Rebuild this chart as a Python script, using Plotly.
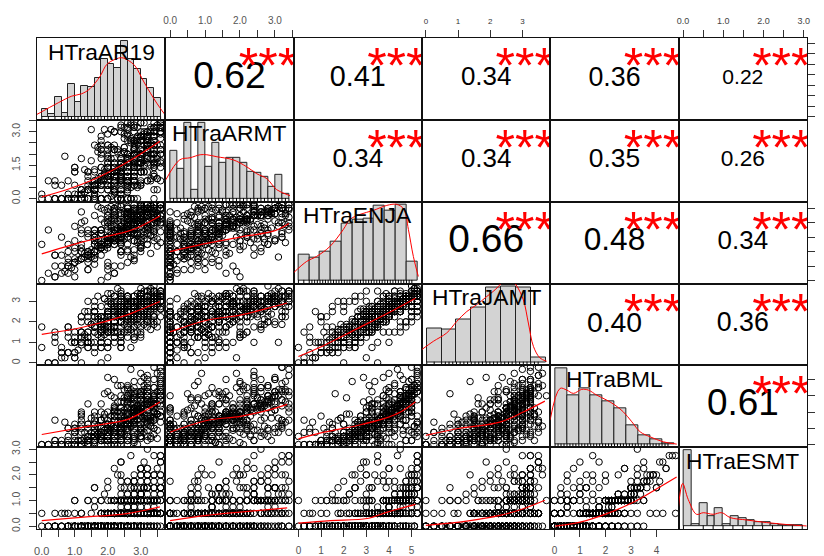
import plotly.graph_objects as go

FONT = "Liberation Sans, Arial, Helvetica, sans-serif"

names = ["HTraAR19", "HTraARMT", "HTraENJA", "HTraJAMT", "HTraBML", "HTraESMT"]

# ---------------- observations (estimated from the scatter clouds) ----------------
AR19 = [
    0.0, 0.4, 1.2, 0.8, 1.6, 0.0, 1.0, 2.0, 0.6, 1.4, 0.4, 1.8, 1.0, 0.8, 2.2, 0.2, 1.2, 1.6, 0.4, 1.0,
    1.4, 0.8, 2.0, 1.6, 1.0, 2.4, 1.2, 0.4, 1.8, 2.2, 1.6, 1.0, 2.6, 1.4, 0.8, 1.8, 2.0, 1.2, 0.6, 1.6,
    1.8, 2.2, 1.0, 1.6, 2.4, 1.4, 2.0, 0.8, 1.8, 2.6, 1.2, 2.0, 1.6, 2.8, 1.4, 1.8, 2.2, 1.0, 2.4, 1.6,
    2.0, 1.6, 2.4, 1.2, 2.2, 2.8, 1.8, 2.6, 1.4, 2.0, 2.4, 1.0, 2.2, 3.0, 1.8, 2.6, 1.6, 2.0, 2.4, 1.8,
    2.2, 2.6, 1.8, 2.4, 3.0, 1.6, 2.2, 2.8, 2.0, 1.4, 2.6, 2.4, 3.2, 1.8, 2.2, 2.0, 2.8, 1.2, 2.4, 2.6,
    2.4, 2.0, 2.8, 2.6, 1.8, 3.0, 2.2, 2.4, 3.2, 1.6, 2.6, 2.8, 2.0, 2.4, 3.4, 2.2, 1.4, 2.6, 3.0, 2.4,
    2.6, 3.0, 2.2, 2.8, 2.4, 3.2, 1.8, 2.6, 3.4, 2.4, 2.0, 2.8, 3.0, 2.6, 2.2, 3.4, 2.4, 2.8, 1.6, 3.2,
    2.8, 2.4, 3.2, 2.6, 3.0, 2.2, 3.4, 2.8, 2.0, 3.0, 2.6, 3.2, 2.4, 2.8, 3.6, 2.6, 3.0, 2.2, 2.8, 3.4,
    3.0, 2.6, 3.2, 2.8, 3.4, 2.4, 3.0, 3.6, 2.8, 3.2, 2.2, 3.0, 3.4, 2.6, 3.2, 2.8, 3.6, 3.0, 2.4, 3.2,
    3.2, 3.4, 2.8, 3.6, 3.0, 3.4, 3.2, 2.6, 3.6, 3.0, 3.4, 3.2, 2.8, 3.6, 3.4, 3.0, 3.2, 3.6, 2.4, 3.4,
    2.2, 3.0, 1.4, 2.6, 0.6, 3.4, 2.0, 1.8, 2.8, 3.2, 1.2, 2.4, 3.6, 2.6, 0.2, 2.0, 3.0, 1.6, 2.8, 2.2,
    3.4, 1.8, 2.6, 0.8, 2.4, 3.0, 2.2, 1.4, 3.2, 2.8, 2.0, 3.6, 1.0, 2.6, 3.0, 2.4, 1.6, 3.4, 2.2, 2.8,
    1.6, 2.8, 3.2, 2.0, 3.6, 1.2, 2.4, 3.0, 2.6, 0.4, 2.2, 3.4, 2.8, 1.8, 3.0, 2.4, 3.2, 2.0, 1.4, 2.6,
    2.6, 2.0, 3.4, 2.8, 1.6, 3.0, 0.8, 2.4, 3.6, 2.2, 2.8, 1.2, 3.2, 2.6, 2.0, 3.4, 1.8, 3.0, 2.4, 3.6,
    3.0, 2.4, 1.8, 3.6, 2.6, 2.2, 3.2, 1.4, 2.8, 3.4, 2.0, 2.6, 3.0, 0.6, 2.4, 3.6, 2.8, 1.6, 3.2, 2.2,
    2.4, 3.2, 2.8, 1.0, 3.4, 2.6, 2.0, 3.0, 1.8, 3.6, 2.2, 2.8, 1.4, 3.2, 2.6, 3.0, 2.4, 2.0, 3.4, 1.2,
    1.3, 2.1, 0.9, 1.7, 2.5, 1.1, 1.9, 2.3, 0.7, 1.5, 2.7, 1.3, 2.0, 1.6, 2.9, 1.2, 1.8, 2.4, 1.4, 2.2,
    1.9, 2.6, 1.5, 2.3, 3.1, 1.7, 2.1, 2.8, 1.3, 2.5, 3.3, 1.9, 2.4, 2.0, 2.7, 1.6, 2.9, 2.2, 1.8, 3.0,
    2.3, 1.7, 2.9, 2.1, 3.3, 2.5, 1.9, 2.7, 3.1, 2.0, 2.6, 1.5, 3.4, 2.2, 2.8, 2.4, 1.8, 3.0, 2.6, 2.1,
    2.7, 2.2, 3.2, 1.9, 2.5, 3.5, 2.3, 2.9, 1.7, 3.1, 2.4, 2.8, 3.3, 2.1, 2.6, 3.0, 2.0, 3.4, 2.5, 2.9,
    2.5, 3.1, 2.2, 2.9, 3.5, 2.7, 2.1, 3.3, 2.6, 3.0, 1.9, 2.8, 3.2, 2.4, 3.6, 2.3, 3.1, 2.7, 3.4, 2.0,
    3.1, 2.6, 3.3, 2.4, 2.9, 3.5, 2.8, 3.2, 2.2, 3.0, 3.4, 2.7, 3.6, 2.5, 3.1, 2.9, 3.3, 2.1, 2.8, 3.5,
    2.9, 3.4, 2.6, 3.2, 3.0, 3.6, 2.4, 3.3, 2.8, 3.5, 3.1, 2.7, 3.4, 3.0, 2.5, 3.2, 3.6, 2.9, 3.3, 2.3,
    3.3, 3.0, 3.5, 2.8, 3.6, 3.2, 2.7, 3.4, 3.1, 3.6, 2.9, 3.5, 3.3, 2.6, 3.4, 3.0, 3.6, 3.2, 2.8, 3.5,
]
ARMT = [
    0.0, 0.0, 0.4, 0.0, 0.8, 0.2, 0.0, 1.0, 0.0, 0.4, 0.6, 0.0, 1.4, 0.0, 0.2, 0.8, 0.0, 0.4, 0.0, 1.2,
    0.4, 0.0, 1.0, 0.6, 0.0, 1.4, 0.2, 0.8, 0.0, 1.6, 0.4, 0.6, 0.0, 1.2, 0.8, 0.0, 2.0, 0.4, 0.6, 0.2,
    0.8, 0.4, 1.2, 0.0, 1.6, 0.6, 1.0, 0.2, 2.0, 0.8, 0.0, 1.4, 0.6, 1.0, 0.4, 2.4, 0.8, 0.0, 1.2, 0.6,
    1.0, 0.6, 1.6, 0.2, 1.2, 0.8, 2.2, 0.4, 1.0, 1.8, 0.0, 1.4, 0.6, 2.6, 1.0, 0.8, 1.2, 0.4, 1.6, 0.6,
    1.2, 0.8, 1.8, 0.4, 1.4, 2.4, 1.0, 0.6, 1.6, 0.0, 2.0, 1.2, 0.8, 2.8, 1.4, 0.6, 1.0, 1.8, 0.2, 1.2,
    1.0, 1.4, 2.0, 0.6, 2.2, 2.6, 1.2, 0.8, 1.8, 0.4, 1.6, 1.4, 1.0, 3.0, 1.6, 0.8, 1.2, 2.0, 0.6, 1.4,
    1.6, 1.2, 2.2, 0.8, 1.8, 2.8, 1.4, 1.0, 2.0, 0.4, 2.4, 1.6, 1.2, 3.2, 1.8, 1.0, 1.4, 2.2, 0.6, 1.6,
    1.8, 1.4, 1.2, 1.0, 2.0, 3.0, 1.6, 2.4, 2.2, 0.6, 2.6, 1.8, 1.4, 3.2, 2.0, 1.2, 1.6, 2.4, 0.8, 2.0,
    2.2, 1.6, 2.8, 1.2, 2.4, 3.2, 2.0, 1.4, 2.6, 0.8, 3.0, 2.2, 1.8, 3.4, 2.4, 1.4, 2.0, 2.8, 1.0, 2.2,
    2.6, 2.0, 3.2, 1.6, 2.8, 3.4, 2.4, 1.8, 3.0, 1.2, 3.2, 2.6, 2.2, 3.4, 2.8, 1.6, 2.4, 3.0, 1.4, 2.8,
    1.6, 2.8, 0.0, 1.0, 0.0, 3.0, 0.4, 1.4, 2.0, 2.4, 0.0, 0.8, 3.2, 1.8, 0.0, 1.2, 2.6, 0.6, 1.0, 2.2,
    2.4, 0.6, 1.8, 0.0, 0.0, 2.6, 1.0, 0.4, 3.0, 0.8, 1.4, 3.4, 0.2, 2.0, 1.6, 0.0, 0.8, 2.8, 1.2, 0.0,
    0.4, 1.2, 2.8, 0.0, 3.2, 0.0, 2.0, 1.6, 0.0, 0.0, 1.0, 2.4, 2.2, 0.6, 3.0, 0.0, 1.8, 1.4, 0.4, 0.8,
    0.0, 1.0, 3.2, 2.0, 0.2, 2.6, 0.0, 0.8, 2.4, 0.4, 1.6, 0.0, 2.8, 1.4, 0.6, 3.0, 0.0, 1.2, 1.8, 2.2,
    2.0, 0.0, 0.8, 3.4, 1.2, 0.4, 2.4, 0.0, 1.6, 2.6, 0.0, 1.0, 1.8, 0.0, 0.6, 3.0, 2.2, 0.0, 2.8, 1.4,
    0.8, 2.2, 1.4, 0.0, 2.6, 1.8, 0.0, 2.0, 0.4, 3.2, 1.0, 0.6, 0.0, 2.4, 1.2, 1.6, 0.0, 0.8, 3.0, 0.0,
    0.3, 1.1, 0.0, 0.7, 1.5, 0.2, 0.9, 0.0, 1.9, 0.5, 0.0, 1.3, 0.6, 0.1, 2.1, 0.4, 0.0, 1.0, 0.8, 0.3,
    0.9, 0.3, 1.7, 0.0, 1.2, 2.3, 0.6, 1.4, 0.0, 2.7, 0.8, 1.1, 0.2, 1.9, 0.5, 1.3, 0.0, 2.2, 1.0, 0.7,
    1.3, 2.1, 0.5, 1.8, 0.9, 2.9, 1.1, 0.0, 2.4, 1.6, 0.7, 3.1, 1.4, 0.3, 2.0, 1.2, 2.6, 0.8, 1.7, 0.1,
    1.9, 0.7, 2.5, 1.3, 3.2, 0.4, 2.2, 1.6, 0.9, 2.8, 1.1, 3.0, 1.5, 2.3, 0.6, 1.8, 2.9, 0.0, 2.1, 1.4,
    2.3, 1.5, 0.8, 2.7, 1.9, 3.3, 1.1, 2.5, 0.5, 2.0, 3.1, 1.7, 2.8, 0.9, 2.2, 1.3, 3.4, 2.6, 1.0, 2.4,
    1.7, 2.9, 2.2, 0.7, 3.2, 2.4, 1.5, 2.7, 3.0, 1.9, 0.4, 2.5, 3.3, 2.1, 1.2, 2.8, 1.8, 3.1, 2.3, 0.9,
    2.6, 1.4, 3.1, 2.2, 2.8, 0.8, 3.3, 2.0, 2.5, 1.6, 3.0, 2.7, 1.1, 3.4, 2.3, 1.9, 2.9, 0.6, 3.2, 2.1,
    3.0, 2.4, 1.8, 3.3, 2.7, 2.1, 3.4, 1.5, 2.9, 3.2, 2.5, 0.9, 3.1, 2.8, 2.2, 3.4, 1.7, 3.0, 2.6, 3.3,
]
ENJA = [
    0.0, 1.0, 2.0, 0.5, 1.5, 2.5, 0.25, 1.25, 3.0, 0.75, 1.75, 0.0, 2.25, 1.0, 0.5, 3.5, 1.5, 2.0, 0.25, 1.25,
    1.5, 2.5, 0.75, 3.0, 2.0, 1.0, 3.5, 1.75, 2.25, 0.5, 2.75, 1.25, 4.0, 2.0, 1.5, 3.25, 0.25, 2.5, 1.75, 3.0,
    2.25, 3.0, 1.5, 3.5, 2.5, 0.75, 4.0, 2.0, 2.75, 1.25, 3.25, 2.5, 4.5, 1.75, 3.0, 2.25, 1.0, 3.75, 2.5, 2.0,
    2.75, 3.5, 2.0, 4.0, 3.0, 1.5, 4.25, 2.5, 3.25, 1.0, 3.75, 2.75, 4.75, 2.25, 3.5, 2.0, 3.0, 4.5, 1.75, 3.25,
    3.0, 3.75, 2.5, 4.25, 3.25, 1.75, 4.5, 2.75, 3.5, 1.25, 4.0, 3.0, 5.0, 2.5, 3.75, 2.25, 3.25, 4.75, 2.0, 3.5,
    3.5, 4.0, 2.75, 4.5, 3.5, 2.0, 4.75, 3.0, 3.75, 1.5, 4.25, 3.25, 5.0, 2.75, 4.0, 2.5, 3.5, 5.0, 2.25, 3.75,
    3.75, 4.25, 3.0, 4.75, 3.75, 2.5, 5.0, 3.25, 4.0, 2.0, 4.5, 3.5, 5.25, 3.0, 4.25, 2.75, 3.75, 5.0, 2.5, 4.0,
    4.0, 4.5, 3.25, 5.0, 4.0, 2.75, 5.25, 3.5, 4.25, 2.25, 4.75, 3.75, 5.25, 3.25, 4.5, 3.0, 4.0, 5.0, 2.75, 4.25,
    4.25, 4.75, 3.5, 5.0, 4.5, 3.0, 5.25, 4.0, 4.5, 2.5, 5.0, 4.0, 5.25, 3.75, 4.75, 3.25, 4.25, 5.0, 3.0, 4.5,
    4.75, 5.0, 4.0, 5.25, 4.5, 3.5, 5.25, 4.25, 5.0, 3.0, 5.0, 4.5, 5.25, 4.0, 4.75, 3.75, 4.5, 5.25, 3.5, 5.0,
    3.5, 4.75, 2.0, 4.0, 1.0, 5.0, 3.0, 2.5, 4.5, 5.25, 1.5, 3.75, 5.0, 4.25, 0.5, 2.75, 4.5, 3.25, 4.0, 3.0,
    4.5, 2.25, 3.75, 1.25, 3.5, 4.75, 2.5, 1.75, 5.0, 4.0, 3.0, 5.25, 0.75, 3.25, 4.25, 2.0, 2.75, 4.5, 3.5, 4.75,
    2.5, 4.0, 5.0, 3.0, 5.25, 1.5, 3.5, 4.25, 3.75, 0.25, 2.75, 4.75, 4.5, 2.25, 5.0, 3.25, 4.0, 3.0, 1.75, 3.5,
    3.75, 2.5, 5.0, 4.25, 2.0, 4.5, 1.0, 3.25, 5.25, 2.75, 4.0, 1.5, 4.75, 3.5, 3.0, 5.0, 2.25, 4.25, 3.75, 5.25,
    4.25, 3.0, 2.5, 5.25, 3.75, 3.25, 4.5, 1.75, 4.0, 5.0, 2.75, 3.5, 4.75, 0.5, 3.0, 5.0, 4.25, 2.0, 4.5, 3.25,
    3.25, 4.5, 4.0, 1.25, 5.0, 3.75, 2.5, 4.25, 2.25, 5.25, 3.0, 4.0, 1.75, 4.75, 3.5, 4.5, 3.75, 2.75, 5.0, 2.0,
    1.625, 2.875, 0.875, 2.375, 3.125, 1.375, 2.625, 3.625, 0.625, 2.125, 3.875, 1.875, 2.5, 1.125, 4.125, 2.25, 1.75, 3.375, 2.0, 2.875,
    2.375, 3.625, 1.875, 3.125, 4.375, 2.625, 3.375, 1.375, 4.125, 2.875, 3.875, 2.125, 4.625, 3.0, 1.625, 3.5, 2.75, 4.25, 3.25, 2.5,
    3.125, 2.375, 4.125, 3.625, 1.875, 4.625, 2.875, 3.375, 4.875, 2.625, 3.875, 1.625, 4.375, 3.25, 2.125, 4.0, 3.5, 2.75, 4.5, 3.0,
    3.625, 4.375, 2.875, 4.875, 3.375, 2.375, 4.125, 3.875, 5.125, 3.125, 2.625, 4.625, 3.5, 4.25, 2.125, 3.75, 4.75, 3.0, 4.0, 3.25,
    4.125, 3.375, 4.875, 2.625, 4.375, 3.875, 5.125, 3.125, 4.625, 2.375, 4.0, 3.625, 4.75, 2.875, 4.5, 3.5, 5.0, 3.25, 4.25, 3.75,
    3.875, 4.625, 3.125, 5.125, 4.375, 2.875, 4.875, 3.625, 4.125, 5.25, 3.375, 4.5, 2.625, 4.75, 4.0, 3.25, 5.0, 3.75, 4.25, 4.875,
    4.375, 3.625, 5.125, 4.125, 4.875, 3.375, 4.625, 5.25, 3.875, 4.5, 2.875, 4.75, 4.25, 5.0, 3.5, 4.0, 4.875, 3.125, 4.625, 5.125,
    4.625, 5.125, 4.125, 4.875, 3.875, 5.25, 4.375, 4.75, 3.625, 5.0, 4.5, 4.0, 5.125, 4.25, 3.375, 4.875, 5.25, 4.625, 3.75, 4.5,
]
JAMT = [
    0.75, 1.0, 0.0, 1.25, 0.5, 1.75, 0.25, 0.75, 0.25, 1.0, 1.5, 0.0, 1.0, 0.5, 1.0, 0.0, 1.5, 0.75, 0.0, 1.25,
    0.75, 1.5, 0.25, 1.75, 1.0, 2.0, 1.0, 1.25, 0.75, 1.75, 2.0, 0.5, 1.5, 1.0, 1.75, 0.75, 1.5, 1.5, 0.5, 2.25,
    1.5, 2.0, 0.5, 1.75, 1.5, 2.5, 1.0, 1.75, 1.25, 1.75, 2.25, 0.75, 1.75, 1.25, 2.0, 1.0, 2.25, 1.5, 0.75, 2.5,
    1.5, 2.5, 0.75, 2.25, 1.75, 2.75, 1.5, 1.75, 1.5, 2.25, 2.5, 1.0, 2.0, 1.75, 2.25, 1.25, 2.5, 2.0, 1.0, 2.75,
    1.75, 2.5, 1.0, 2.25, 2.0, 3.0, 1.5, 2.25, 1.75, 2.25, 2.75, 1.25, 2.25, 2.0, 2.5, 1.5, 2.75, 2.0, 1.25, 3.0,
    2.0, 2.75, 1.25, 2.5, 2.25, 3.0, 1.75, 2.5, 2.0, 2.5, 3.0, 1.5, 2.5, 2.0, 2.75, 1.75, 3.0, 2.25, 1.5, 3.25,
    2.25, 3.0, 1.5, 2.75, 2.5, 3.25, 2.0, 2.5, 2.25, 2.75, 3.0, 1.75, 2.5, 2.25, 2.75, 2.0, 3.25, 2.5, 1.75, 3.25,
    2.5, 3.0, 1.75, 2.75, 2.75, 3.25, 2.25, 2.75, 2.5, 3.0, 3.25, 2.0, 2.75, 2.5, 3.0, 2.25, 3.25, 2.75, 2.0, 3.5,
    2.75, 3.25, 2.0, 3.0, 2.75, 3.5, 2.5, 3.0, 2.75, 3.0, 3.25, 2.25, 3.0, 2.75, 3.0, 2.5, 3.5, 2.75, 2.25, 3.25,
    2.75, 3.25, 2.25, 3.25, 3.0, 3.5, 2.75, 3.25, 2.75, 3.0, 3.5, 2.5, 3.25, 3.0, 3.25, 2.5, 3.5, 3.0, 2.5, 3.75,
    2.25, 3.0, 1.0, 2.75, 0.75, 3.25, 1.5, 2.0, 2.5, 3.5, 1.25, 2.0, 3.0, 3.25, 0.0, 1.75, 2.75, 2.5, 2.25, 2.0,
    3.0, 1.75, 2.5, 0.5, 2.0, 3.25, 1.25, 1.5, 2.75, 2.75, 2.25, 3.5, 0.25, 2.5, 2.5, 1.0, 2.25, 3.25, 2.0, 3.0,
    1.75, 2.25, 3.25, 2.5, 3.0, 1.5, 2.0, 2.75, 2.75, 0.0, 1.5, 3.0, 2.5, 1.75, 3.25, 2.25, 3.0, 1.75, 1.0, 2.5,
    2.5, 2.0, 3.0, 2.75, 1.0, 2.5, 0.5, 2.25, 3.25, 1.25, 3.0, 1.0, 3.25, 2.0, 2.25, 2.75, 1.75, 2.5, 3.0, 3.5,
    2.75, 2.25, 1.25, 3.25, 2.5, 1.75, 3.0, 1.25, 2.25, 3.0, 2.0, 2.75, 3.0, 0.5, 2.0, 3.5, 2.5, 1.5, 3.25, 2.25,
    2.0, 3.0, 2.5, 1.0, 3.25, 2.25, 1.75, 2.75, 1.5, 3.25, 2.5, 2.25, 0.75, 3.0, 2.25, 2.75, 2.5, 1.5, 3.0, 1.25,
    1.375, 1.625, 1.0, 2.125, 1.5, 0.625, 2.25, 2.375, 0.25, 1.875, 2.0, 1.25, 1.0, 1.5, 2.625, 0.875, 1.625, 1.75, 1.25, 2.5,
    1.625, 2.125, 1.875, 1.5, 2.875, 2.25, 1.75, 1.125, 2.5, 2.625, 2.0, 1.375, 3.125, 2.375, 0.75, 2.75, 1.5, 2.625, 2.25, 1.25,
    2.375, 1.375, 2.625, 2.875, 1.625, 3.0, 1.875, 2.25, 3.125, 2.5, 2.125, 1.0, 2.75, 2.375, 1.75, 3.25, 1.875, 2.625, 2.875, 1.5,
    2.125, 2.875, 2.375, 3.125, 1.875, 2.0, 2.625, 3.375, 3.25, 2.25, 1.375, 2.75, 2.5, 3.0, 1.625, 2.875, 3.375, 1.875, 2.625, 2.125,
    2.75, 2.25, 3.25, 1.875, 3.0, 2.5, 3.375, 2.625, 2.875, 1.375, 3.125, 2.125, 3.25, 2.375, 2.625, 2.75, 3.5, 1.625, 3.0, 2.375,
    2.5, 3.125, 2.75, 3.375, 2.875, 1.75, 3.25, 2.125, 3.0, 3.625, 2.625, 2.875, 2.25, 3.0, 2.375, 2.5, 3.25, 2.875, 2.625, 3.125,
    3.0, 2.375, 3.25, 2.875, 3.125, 2.625, 2.75, 3.5, 2.25, 3.375, 1.875, 3.0, 3.125, 3.375, 2.5, 2.75, 3.25, 2.125, 3.0, 3.625,
    3.125, 3.375, 2.875, 3.25, 2.625, 3.5, 3.0, 3.125, 2.375, 3.25, 3.0, 2.75, 3.625, 2.875, 2.25, 3.125, 3.375, 3.0, 2.625, 3.25,
]
BML = [
    0.0, 0.25, 0.0, 1.0, 0.5, 0.0, 0.75, 0.0, 0.25, 0.0, 1.5, 0.5, 0.0, 0.25, 0.75, 0.0, 1.25, 0.5, 0.0, 0.25,
    0.25, 0.0, 0.75, 1.25, 0.5, 0.0, 1.0, 0.25, 0.5, 0.0, 1.75, 0.75, 0.0, 0.5, 1.0, 0.25, 1.5, 0.75, 0.0, 0.5,
    0.5, 0.25, 1.0, 1.5, 0.75, 0.0, 1.25, 0.5, 0.75, 0.25, 2.0, 1.0, 0.0, 0.5, 1.25, 0.25, 1.75, 1.0, 0.25, 0.75,
    0.75, 0.5, 1.25, 1.75, 1.0, 0.25, 1.5, 0.5, 1.0, 0.25, 2.25, 1.25, 0.25, 0.75, 1.5, 0.5, 2.0, 1.25, 0.25, 1.0,
    1.0, 0.5, 1.5, 2.0, 1.25, 0.25, 1.75, 0.75, 1.25, 0.5, 2.5, 1.5, 0.25, 1.0, 1.75, 0.5, 2.25, 1.5, 0.5, 1.25,
    1.25, 0.75, 1.75, 2.25, 1.5, 0.5, 2.0, 0.75, 1.5, 0.5, 2.75, 1.75, 0.25, 1.0, 2.0, 0.75, 2.5, 1.75, 0.5, 1.5,
    1.5, 1.0, 2.0, 2.75, 1.75, 0.5, 2.5, 1.0, 1.75, 0.75, 3.25, 2.0, 0.5, 1.25, 2.25, 1.0, 3.0, 2.0, 0.75, 1.75,
    1.75, 1.25, 2.5, 3.0, 2.0, 0.75, 2.75, 1.25, 2.0, 1.0, 3.5, 2.5, 0.75, 1.5, 2.75, 1.25, 3.25, 2.25, 1.0, 2.0,
    2.25, 1.5, 2.75, 3.5, 2.5, 1.0, 3.25, 1.75, 2.5, 1.25, 4.0, 2.75, 1.0, 2.0, 3.0, 1.5, 3.75, 2.75, 1.25, 2.5,
    2.75, 2.0, 3.25, 4.0, 3.0, 1.5, 3.75, 2.25, 3.0, 1.5, 4.75, 3.25, 1.25, 2.5, 3.5, 2.0, 4.25, 3.25, 1.75, 3.0,
    1.5, 2.5, 0.5, 1.75, 0.0, 3.0, 1.0, 0.75, 2.25, 3.5, 0.25, 1.25, 2.75, 2.0, 0.0, 0.5, 2.0, 1.25, 1.5, 1.0,
    2.0, 0.75, 1.5, 0.0, 1.25, 2.75, 0.5, 0.25, 3.25, 1.75, 1.0, 4.25, 0.0, 1.0, 2.5, 0.25, 0.75, 2.25, 1.5, 3.0,
    0.75, 1.75, 3.0, 0.5, 3.75, 0.25, 1.25, 2.0, 1.5, 0.0, 0.5, 2.5, 2.25, 0.75, 3.25, 1.0, 1.75, 0.5, 0.25, 1.25,
    1.25, 0.5, 2.75, 2.0, 0.25, 2.25, 0.0, 1.0, 4.5, 0.75, 1.75, 0.25, 3.0, 1.5, 0.5, 2.5, 0.5, 1.25, 2.0, 3.5,
    1.75, 1.0, 0.25, 3.25, 1.5, 0.75, 2.5, 0.0, 1.25, 4.0, 0.5, 1.5, 2.25, 0.0, 0.75, 3.0, 2.0, 0.25, 2.75, 1.0,
    1.0, 2.25, 1.75, 0.0, 3.5, 1.25, 0.5, 2.0, 0.25, 4.75, 1.0, 1.5, 0.25, 2.5, 0.75, 1.75, 1.25, 0.5, 3.0, 0.0,
    0.375, 1.125, 0.0, 0.625, 1.625, 0.25, 0.875, 0.0, 1.375, 0.5, 2.125, 0.125, 0.75, 1.0, 0.0, 1.875, 0.375, 0.625, 1.25, 0.0,
    0.875, 0.25, 1.625, 0.5, 2.375, 1.125, 0.0, 1.375, 0.75, 2.625, 0.375, 1.875, 0.625, 1.0, 3.125, 0.125, 1.5, 0.875, 2.0, 0.5,
    1.375, 0.625, 2.125, 0.875, 1.625, 2.875, 0.25, 1.125, 3.375, 0.5, 1.875, 0.75, 2.5, 1.0, 0.125, 2.25, 1.5, 0.375, 3.0, 1.25,
    1.625, 2.375, 0.875, 3.125, 1.125, 0.375, 2.625, 1.875, 0.625, 3.625, 1.375, 2.125, 0.5, 1.75, 2.875, 1.0, 0.25, 2.25, 1.5, 3.25,
    2.125, 1.375, 2.875, 0.625, 1.875, 3.375, 1.125, 2.375, 0.875, 3.875, 1.625, 0.375, 2.625, 1.25, 3.0, 2.0, 0.75, 2.5, 1.5, 4.125,
    1.875, 2.625, 1.125, 3.625, 2.375, 0.875, 3.125, 1.625, 2.125, 4.375, 0.625, 2.875, 1.375, 3.375, 1.0, 2.25, 1.75, 3.0, 0.5, 2.5,
    2.375, 1.625, 3.375, 2.125, 0.875, 3.875, 2.625, 1.375, 2.875, 1.875, 4.125, 1.125, 3.125, 2.25, 0.625, 3.5, 2.0, 2.75, 1.5, 3.625,
    2.625, 3.125, 1.875, 3.875, 2.375, 1.375, 4.625, 2.875, 1.625, 3.375, 2.125, 4.375, 1.125, 3.625, 2.5, 3.0, 1.75, 4.0, 2.25, 3.25,
]
ESMT = [
    0.0, 0.0, 0.0, 0.0, 0.0, 0.5, 0.0, 0.0, 0.0, 0.0, 0.0, 1.0, 0.0, 0.0, 0.0, 0.0, 0.0, 0.0, 0.5, 0.0,
    0.0, 0.5, 0.0, 0.0, 0.0, 1.0, 0.0, 0.0, 0.0, 0.5, 0.0, 1.0, 0.0, 0.0, 0.0, 0.0, 0.0, 0.0, 0.5, 0.0,
    0.0, 0.5, 0.0, 0.0, 0.0, 1.0, 0.5, 0.0, 0.0, 0.5, 0.0, 1.5, 0.0, 0.0, 0.0, 0.0, 0.0, 0.5, 1.0, 0.0,
    0.0, 0.75, 0.0, 0.0, 0.0, 1.25, 0.5, 0.0, 0.0, 0.5, 0.0, 1.0, 0.5, 0.0, 0.0, 0.0, 0.0, 0.5, 1.0, 0.5,
    0.0, 1.0, 0.0, 0.5, 0.0, 1.5, 0.5, 0.0, 0.0, 1.0, 0.0, 1.25, 0.5, 0.0, 0.0, 0.5, 0.0, 0.5, 1.0, 0.0,
    0.0, 1.0, 0.0, 0.5, 0.0, 1.75, 1.0, 0.0, 0.0, 1.0, 0.0, 1.5, 0.5, 0.0, 0.5, 0.5, 0.0, 0.75, 1.25, 0.5,
    0.0, 1.25, 0.0, 0.5, 0.0, 2.0, 1.0, 0.0, 0.5, 1.0, 0.0, 1.75, 0.75, 0.0, 0.5, 0.5, 0.0, 1.0, 1.5, 0.5,
    0.0, 1.5, 0.5, 1.0, 0.0, 2.25, 1.0, 0.0, 0.5, 1.25, 0.0, 2.0, 1.0, 0.0, 0.5, 0.75, 0.0, 1.0, 1.75, 0.5,
    0.0, 1.75, 0.5, 1.0, 0.0, 2.5, 1.5, 0.0, 0.5, 1.5, 0.5, 2.25, 1.0, 0.0, 1.0, 1.0, 0.5, 1.25, 2.0, 1.0,
    0.0, 2.0, 0.5, 1.5, 0.5, 2.75, 1.75, 0.0, 1.0, 2.0, 0.5, 3.0, 1.5, 0.5, 1.0, 1.0, 0.5, 1.5, 2.5, 1.0,
    0.5, 1.0, 0.0, 0.0, 0.0, 1.5, 0.5, 0.0, 1.0, 2.25, 0.0, 0.0, 1.25, 0.5, 0.0, 0.0, 1.0, 0.0, 0.5, 0.0,
    1.0, 0.0, 0.5, 0.0, 0.0, 1.0, 0.0, 0.0, 2.0, 0.5, 0.0, 2.5, 0.0, 0.5, 1.25, 0.0, 0.0, 0.75, 0.5, 1.75,
    0.0, 0.5, 1.5, 0.0, 2.0, 0.0, 0.5, 1.0, 0.0, 0.0, 0.0, 1.25, 1.0, 0.0, 2.25, 0.5, 0.75, 0.0, 0.0, 0.5,
    0.5, 0.0, 1.0, 1.0, 0.0, 0.5, 0.0, 0.5, 2.75, 0.0, 0.75, 0.0, 1.5, 0.5, 0.0, 1.0, 0.0, 0.5, 1.0, 2.5,
    0.5, 0.5, 0.0, 1.75, 0.0, 0.0, 1.0, 0.0, 0.5, 2.0, 0.0, 0.5, 1.0, 0.0, 0.0, 1.5, 0.5, 0.0, 2.25, 0.0,
    0.0, 1.0, 0.5, 0.0, 1.75, 0.5, 0.0, 1.0, 0.0, 2.75, 0.5, 0.5, 0.0, 1.25, 0.0, 1.0, 0.5, 0.0, 1.5, 0.0,
    0.0, 0.0, 0.0, 0.0, 0.5, 0.0, 0.0, 0.0, 0.5, 0.0, 0.5, 0.0, 0.0, 0.0, 0.0, 0.5, 0.0, 0.0, 0.0, 0.0,
    0.0, 0.0, 0.5, 0.0, 1.0, 0.0, 0.0, 0.0, 0.0, 1.0, 0.0, 0.5, 0.0, 0.0, 1.0, 0.0, 0.5, 0.0, 0.5, 0.0,
    0.5, 0.0, 0.5, 0.0, 0.5, 1.0, 0.0, 0.0, 1.5, 0.0, 0.5, 0.0, 1.0, 0.0, 0.0, 0.75, 0.5, 0.0, 1.25, 0.5,
    0.5, 1.0, 0.0, 1.25, 0.0, 0.0, 1.0, 0.5, 0.0, 1.5, 0.5, 0.75, 0.0, 0.5, 1.0, 0.0, 0.0, 1.0, 0.5, 1.5,
    0.5, 0.5, 1.0, 0.0, 0.5, 1.5, 0.0, 1.0, 0.0, 2.0, 0.5, 0.0, 1.0, 0.5, 1.25, 0.5, 0.0, 1.0, 0.5, 1.75,
    0.5, 1.0, 0.5, 1.75, 0.5, 0.0, 1.25, 0.5, 1.0, 2.25, 0.0, 1.0, 0.5, 1.5, 0.0, 0.5, 0.5, 1.0, 0.0, 1.0,
    0.5, 0.5, 1.25, 1.0, 0.0, 2.0, 1.0, 0.5, 1.0, 0.5, 2.5, 0.0, 1.5, 1.0, 0.0, 1.75, 0.5, 1.0, 0.5, 2.0,
    1.0, 1.25, 0.5, 2.0, 1.0, 0.5, 2.75, 1.0, 0.5, 1.5, 1.0, 2.25, 0.0, 1.75, 0.5, 1.25, 0.5, 1.5, 1.0, 1.0,
]
variables = [AR19, ARMT, ENJA, JAMT, BML, ESMT]

# ---------------- correlations (upper triangle, row by row) ----------------
corr_upper = [0.62, 0.41, 0.34, 0.36, 0.22,
              0.34, 0.34, 0.35, 0.26,
              0.66, 0.48, 0.34,
              0.40, 0.36,
              0.61]
signif_upper = ["***"] * 15

# ---------------- histograms (breaks, bar heights) and density curves ----------------
hist_breaks_AR19 = [0.0, 0.2, 0.4, 0.6, 0.8, 1.0, 1.2, 1.4, 1.6, 1.8, 2.0, 2.2, 2.4, 2.6, 2.8, 3.0, 3.2, 3.4, 3.6]
hist_heights_AR19 = [24, 7, 60, 12, 99, 44, 92, 90, 117, 172, 159, 147, 227, 172, 144, 114, 87, 55]
dens_x_AR19 = [-0.15, 0.50, 0.91, 1.21, 1.46, 1.77, 1.97, 2.22, 2.42, 2.62, 2.83, 3.08, 3.38, 3.58, 3.73]
dens_y_AR19 = [7, 42, 62, 69, 84, 122, 157, 172, 177, 169, 152, 107, 57, 27, 7]

hist_breaks_ARMT = [0.0, 0.2, 0.4, 0.6, 0.8, 1.0, 1.2, 1.4, 1.6, 1.8, 2.0, 2.2, 2.4, 2.6, 2.8, 3.0, 3.2, 3.4]
hist_heights_ARMT = [48, 30, 76, 9, 76, 32, 56, 36, 41, 41, 36, 27, 26, 22, 12, 24, 5]
dens_x_ARMT = [-0.12, 0.28, 0.57, 0.86, 1.05, 1.34, 1.80, 2.19, 2.48, 2.77, 3.05, 3.43]
dens_y_ARMT = [19, 39, 41, 44, 44, 42, 39, 32, 25, 20, 9, 3]

hist_breaks_ENJA = [0.0, 0.5, 1.0, 1.5, 2.0, 2.5, 3.0, 3.5, 4.0, 4.5, 5.0, 5.5]
hist_heights_ENJA = [25.7, 23, 29, 39, 56.7, 60.7, 61.3, 74.7, 70, 75.7, 19]
dens_x_ENJA = [-0.24, 0.38, 0.84, 1.46, 2.08, 2.39, 2.85, 3.47, 4.09, 4.55, 4.89, 5.09, 5.32, 5.55]
dens_y_ENJA = [7.4, 19, 24, 34, 51, 61, 66, 70, 75, 76, 71, 51, 24, 4]

hist_breaks_JAMT = [0.0, 0.5, 1.0, 1.5, 2.0, 2.5, 3.0, 3.5, 4.0]
hist_heights_JAMT = [34.3, 32.7, 43.3, 55.3, 75.3, 76, 75.3, 5.3]
dens_x_JAMT = [-0.17, 0.22, 0.67, 1.01, 1.35, 1.68, 2.02, 2.30, 2.49, 2.71, 2.98, 3.25, 3.42, 3.59, 3.81, 4.04]
dens_y_JAMT = [12.7, 21, 29.4, 41, 51, 57.7, 66, 72.7, 78.7, 86, 78.7, 62.7, 39.4, 16, 4.4, 1]

hist_breaks_BML = [0.0, 0.5, 1.0, 1.5, 2.0, 2.5, 3.0, 3.5, 4.0, 4.5, 5.0]
hist_heights_BML = [75.7, 49, 55.7, 49, 42.3, 35.7, 18.3, 9, 4.7, 1.3]
dens_x_BML = [-0.21, 0.21, 0.49, 0.77, 1.12, 1.40, 1.75, 2.17, 2.52, 2.87, 3.23, 3.58, 4.0, 4.56, 5.12]
dens_y_BML = [24, 55.7, 54, 50.7, 54.7, 54, 49, 44, 39, 32.3, 22.3, 12.3, 7.3, 2.3, 0]

hist_breaks_ESMT = [0.0, 0.2, 0.4, 0.6, 0.8, 1.0, 1.2, 1.4, 1.6, 1.8, 2.0, 2.2, 2.4, 2.6, 2.8, 3.0]
hist_heights_ESMT = [76, 2, 22.7, 9.4, 17.4, 2, 9.4, 7.4, 6, 4, 4, 2, 1, 1, 0.5]
dens_x_ESMT = [-0.13, -0.02, 0.12, 0.33, 0.50, 0.75, 0.97, 1.18, 1.60, 2.10, 2.61, 3.11]
dens_y_ESMT = [16.7, 42.7, 26.7, 11.7, 13.3, 11.7, 13.3, 8.4, 6, 3.4, 1.4, 0]

hist_breaks = [hist_breaks_AR19, hist_breaks_ARMT, hist_breaks_ENJA, hist_breaks_JAMT, hist_breaks_BML, hist_breaks_ESMT]
hist_heights = [hist_heights_AR19, hist_heights_ARMT, hist_heights_ENJA, hist_heights_JAMT, hist_heights_BML, hist_heights_ESMT]
dens_x = [dens_x_AR19, dens_x_ARMT, dens_x_ENJA, dens_x_JAMT, dens_x_BML, dens_x_ESMT]
dens_y = [dens_y_AR19, dens_y_ARMT, dens_y_ENJA, dens_y_JAMT, dens_y_BML, dens_y_ESMT]

# ---------------- smoothed (lowess) lines of the lower panels, (row, col) ----------------
smooth_21 = ([0, 0.77, 1.57, 2.37, 2.97, 3.58], [0.08, 0.41, 0.86, 1.45, 1.98, 2.57])
smooth_31 = ([0, 1.27, 2.57, 2.97, 3.58], [1.84, 2.69, 3.38, 3.72, 4.46])
smooth_41 = ([0, 1.27, 2.57, 2.97, 3.58], [1.39, 1.75, 2.33, 2.58, 2.99])
smooth_51 = ([0, 1.27, 2.57, 2.97, 3.58], [0.62, 1.07, 1.52, 1.90, 2.61])
smooth_61 = ([0, 1.27, 2.57, 3.58], [0.22, 0.35, 0.49, 0.75])
smooth_32 = ([0, 1.0, 2.0, 3.0, 3.4], [2.0, 2.55, 3.0, 3.45, 3.95])
smooth_42 = ([0, 1.05, 2.01, 2.78, 3.35], [1.51, 2.08, 2.33, 2.66, 2.92])
smooth_52 = ([0, 1.05, 2.01, 2.78, 3.35], [0.76, 1.48, 1.73, 2.10, 2.47])
smooth_62 = ([0, 1.05, 2.01, 3.35], [0.22, 0.42, 0.55, 0.71])
smooth_43 = ([0, 1.13, 2.60, 4.07, 5.17], [0.31, 0.85, 1.67, 2.49, 3.15])
smooth_53 = ([0, 1.13, 2.60, 3.78, 4.51, 5.17], [0.35, 0.76, 1.17, 1.59, 2.0, 2.63])
smooth_63 = ([0, 1.42, 3.04, 3.93, 5.17], [0.12, 0.22, 0.30, 0.55, 0.85])
smooth_54 = ([0, 0.96, 2.30, 3.03, 3.70], [0.56, 0.97, 1.38, 2.0, 2.67])
smooth_64 = ([0, 1.27, 2.30, 3.03, 3.70], [0.03, 0.2, 0.42, 0.68, 1.01])
smooth_65 = ([0.03, 1.01, 2.06, 3.11, 4.03, 4.79], [0, 0.16, 0.49, 0.94, 1.47, 1.92])
smooth = {(1, 0): smooth_21, (2, 0): smooth_31, (3, 0): smooth_41, (4, 0): smooth_51, (5, 0): smooth_61,
          (2, 1): smooth_32, (3, 1): smooth_42, (4, 1): smooth_52, (5, 1): smooth_62,
          (3, 2): smooth_43, (4, 2): smooth_53, (5, 2): smooth_63,
          (4, 3): smooth_54, (5, 3): smooth_64, (5, 4): smooth_65}

# ---------------- axis ranges and tick labels ----------------
axis_range = [[-0.144, 3.744], [-0.136, 3.536], [-0.21, 5.46], [-0.12, 3.87], [-0.16, 4.87], [-0.11, 3.08]]

ticks_AR19 = ([0, 0.5, 1, 1.5, 2, 2.5, 3, 3.5], ["0.0", "", "1.0", "", "2.0", "", "3.0", ""])
ticks_ARMT_top = ([0, 0.5, 1, 1.5, 2, 2.5, 3, 3.5], ["0.0", "", "1.0", "", "2.0", "", "3.0", ""])
ticks_ARMT_left = ([0, 0.5, 1, 1.5, 2, 2.5, 3, 3.5], ["0.0", "", "", "1.5", "", "", "3.0", ""])
ticks_ENJA = ([0, 1, 2, 3, 4, 5], ["0", "1", "2", "3", "4", "5"])
ticks_JAMT = ([0, 1, 2, 3], ["0", "1", "2", "3"])
ticks_BML = ([0, 1, 2, 3, 4], ["0", "1", "2", "3", "4"])
ticks_ESMT = ([0, 0.5, 1, 1.5, 2, 2.5, 3], ["0.0", "", "1.0", "", "2.0", "", "3.0"])

fig = go.Figure()


def sfx(i, j):
    k = i * 6 + j + 1
    return "" if k == 1 else str(k)


# the page body adds an 8px offset, so the figure is 816x548 and the margins are shifted
layout = dict(width=816, height=548, margin=dict(l=29, r=17, t=30, b=27, autoexpand=False),
              paper_bgcolor="white", plot_bgcolor="white", showlegend=False,
              font=dict(family=FONT, color="black"))

for i in range(6):
    for j in range(6):
        s = sfx(i, j)
        common = dict(showgrid=False, zeroline=False, showline=True, mirror=True,
                      linecolor="#111", linewidth=1, ticks="", showticklabels=False,
                      fixedrange=True, automargin=False)
        xa = dict(domain=[j / 6, (j + 1) / 6], anchor="y" + s, **common)
        ya = dict(domain=[1 - (i + 1) / 6, 1 - i / 6], anchor="x" + s, **common)
        if i == j:
            b = hist_breaks[i]
            span = b[-1] - b[0]
            xa["range"] = [b[0] - 0.04 * span, b[-1] + 0.04 * span]
            M = max(hist_heights[i])
            ya["range"] = [-0.04 * M, 1.04 * M]
        else:
            xa["range"] = axis_range[j]
            ya["range"] = axis_range[i]
        layout["xaxis" + s] = xa
        layout["yaxis" + s] = ya


def set_ticks(axkey, tk, side, size, color="#555", standoff=6, angle=None):
    ax = layout[axkey]
    ax.update(ticks="outside", ticklen=7, tickwidth=1, tickcolor="#333",
              tickvals=tk[0], ticktext=tk[1], showticklabels=True, side=side,
              tickfont=dict(size=size, color=color, family=FONT),
              ticklabelstandoff=standoff)
    if angle is not None:
        ax["tickangle"] = angle


# bottom axes (cols 1,3,5 of row 6)
set_ticks("xaxis" + sfx(5, 0), ticks_AR19, "bottom", 11, standoff=5)
set_ticks("xaxis" + sfx(5, 2), ticks_ENJA, "bottom", 10, standoff=5)
set_ticks("xaxis" + sfx(5, 4), ticks_BML, "bottom", 10, standoff=5)
# top axes (cols 2,4,6 of row 1)
set_ticks("xaxis" + sfx(0, 1), ticks_ARMT_top, "top", 10, standoff=2)
set_ticks("xaxis" + sfx(0, 3), ticks_JAMT, "top", 8, color="#333", standoff=3)
set_ticks("xaxis" + sfx(0, 5), ticks_ESMT, "top", 9, color="#444", standoff=2)
# left axes (rows 2,4,6 of col 1)
set_ticks("yaxis" + sfx(1, 0), ticks_ARMT_left, "left", 10.5, standoff=5, angle=-90)
set_ticks("yaxis" + sfx(3, 0), ticks_JAMT, "left", 10.5, standoff=5, angle=-90)
set_ticks("yaxis" + sfx(5, 0), ticks_ESMT, "left", 10.5, standoff=5, angle=-90)
# right axes (rows 1,3,5 of col 6)
set_ticks("yaxis" + sfx(0, 5), ticks_AR19, "right", 10, standoff=5, angle=-90)
set_ticks("yaxis" + sfx(2, 5), ticks_ENJA, "right", 10, standoff=5, angle=-90)
set_ticks("yaxis" + sfx(4, 5), ticks_BML, "right", 10, standoff=5, angle=-90)

NUM_BASE = 52.7
STAR_SIZE = 50
annotations = []
ci = 0
for i in range(6):
    for j in range(6):
        s = sfx(i, j)
        xr, yr = "x" + s, "y" + s
        if i == j:
            b = hist_breaks[i]
            h = hist_heights[i]
            centers = [(b[k] + b[k + 1]) / 2 for k in range(len(h))]
            widths = [b[k + 1] - b[k] for k in range(len(h))]
            fig.add_trace(go.Bar(x=centers, y=h, width=widths, xaxis=xr, yaxis=yr,
                                 marker=dict(color="#D3D3D3", line=dict(color="#222", width=1)),
                                 hoverinfo="skip"))
            fig.add_trace(go.Scatter(x=dens_x[i], y=dens_y[i], mode="lines", xaxis=xr, yaxis=yr,
                                     line=dict(color="red", width=1, shape="spline"),
                                     cliponaxis=True, hoverinfo="skip"))
            M = max(h)
            rug_vals = sorted(set(variables[i]))
            fig.add_trace(go.Scatter(x=rug_vals, y=[-0.02 * M] * len(rug_vals), mode="markers",
                                     xaxis=xr, yaxis=yr,
                                     marker=dict(symbol="line-ns-open", size=3, color="black",
                                                 line=dict(color="black", width=1)),
                                     hoverinfo="skip"))
            annotations.append(dict(text=names[i], x=0.5, y=0.833, xref=xr + " domain",
                                    yref=yr + " domain", showarrow=False,
                                    font=dict(size=22.8, color="black", family=FONT),
                                    xanchor="center", yanchor="middle"))
        elif i > j:
            fig.add_trace(go.Scatter(x=variables[j], y=variables[i], mode="markers",
                                     xaxis=xr, yaxis=yr,
                                     marker=dict(symbol="circle-open", size=6.5,
                                                 color="black", line=dict(color="black", width=1)),
                                     cliponaxis=True, hoverinfo="skip"))
            sx, sy = smooth[(i, j)]
            fig.add_trace(go.Scatter(x=sx, y=sy, mode="lines", xaxis=xr, yaxis=yr,
                                     line=dict(color="red", width=1.2, shape="spline"),
                                     cliponaxis=True, hoverinfo="skip"))
        else:
            r = corr_upper[ci]
            star = signif_upper[ci]
            ci += 1
            x0, x1 = axis_range[j]
            y0, y1 = axis_range[i]
            size = NUM_BASE * (abs(r) + 0.3) / 1.3
            fig.add_trace(go.Scatter(x=[x0 + 0.5 * (x1 - x0)], y=[y0 + 0.5 * (y1 - y0)],
                                     mode="text", text=["%.2f" % r], textposition="middle center",
                                     textfont=dict(size=size, color="black", family=FONT),
                                     xaxis=xr, yaxis=yr, cliponaxis=True, hoverinfo="skip"))
            fig.add_trace(go.Scatter(x=[x0 + 0.8 * (x1 - x0)], y=[y0 + 0.60 * (y1 - y0)],
                                     mode="text", text=[star], textposition="middle center",
                                     textfont=dict(size=STAR_SIZE, color="red", family=FONT),
                                     xaxis=xr, yaxis=yr, cliponaxis=True, hoverinfo="skip"))

layout["annotations"] = annotations
layout["bargap"] = 0
fig.update_layout(**layout)
fig.write_html("out.html")
